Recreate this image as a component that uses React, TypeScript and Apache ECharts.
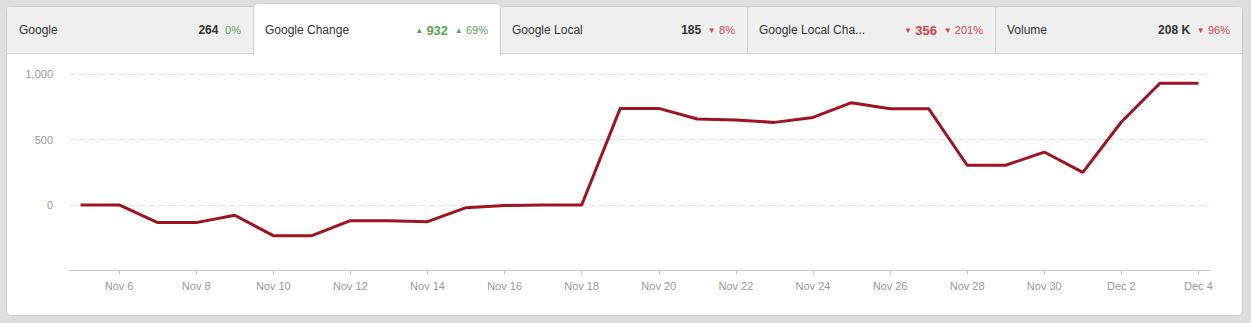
import React, { useEffect, useRef } from "react";
import * as echarts from "echarts";

const dates = [
  "Nov 5", "Nov 6", "Nov 7", "Nov 8", "Nov 9", "Nov 10", "Nov 11", "Nov 12", "Nov 13", "Nov 14",
  "Nov 15", "Nov 16", "Nov 17", "Nov 18", "Nov 19", "Nov 20", "Nov 21", "Nov 22", "Nov 23", "Nov 24",
  "Nov 25", "Nov 26", "Nov 27", "Nov 28", "Nov 29", "Nov 30", "Dec 1", "Dec 2", "Dec 3", "Dec 4",
];
const googleChange = [
  0, 0, -135, -135, -79, -235, -235, -120, -120, -128,
  -21, -5, 0, 0, 739, 739, 658, 650, 632, 670,
  783, 737, 737, 304, 304, 405, 250, 635, 932, 932,
];
const tickLabels = ["Nov 6", "Nov 8", "Nov 10", "Nov 12", "Nov 14", "Nov 16", "Nov 18", "Nov 20",
  "Nov 22", "Nov 24", "Nov 26", "Nov 28", "Nov 30", "Dec 2", "Dec 4"];
const yTicks = [-500, 0, 500, 1000];

const tabNames = ["Google", "Google Change", "Google Local", "Google Local Cha...", "Volume"];
const tabValues = ["264", "932", "185", "356", "208 K"];
const tabPercents = ["0%", "69%", "8%", "201%", "96%"];
const tabValueTrend = ["none", "up", "none", "down", "none"];
const tabPercentTrend = ["flat", "up", "down", "down", "down"];
const activeTab = 1;

const FONT = "'Liberation Sans', Arial, sans-serif";
const GREEN = "#5aa556";
const RED = "#d6404a";
const LINE = "#9e1420";

export default function App() {
  const ref = useRef<HTMLDivElement>(null);
  useEffect(() => {
    if (!ref.current) return;
    const chart = echarts.init(ref.current, null, { renderer: "svg" });
    const tabEdges = [7, 253, 500, 747, 995, 1242];
    const graphics: any[] = [];
    graphics.push({ type: "rect", z: -10, silent: true, shape: { x: 0, y: 0, width: 1251, height: 323 }, style: { fill: "#dedede" } });
    graphics.push({ type: "rect", z: -9, silent: true, shape: { x: 6.5, y: 6.5, width: 1236, height: 309, r: 4 }, style: { fill: "#ffffff", stroke: "#cccccc", lineWidth: 1 } });
    graphics.push({ type: "rect", z: -8, silent: true, shape: { x: 7, y: 7, width: 1235, height: 46, r: [4, 4, 0, 0] }, style: { fill: "#efefef" } });
    graphics.push({ type: "line", z: -7, silent: true, shape: { x1: 7, y1: 53.5, x2: 1242, y2: 53.5 }, style: { stroke: "#cfcfcf", lineWidth: 1 } });
    [747, 995].forEach((x) => {
      graphics.push({ type: "line", z: -7, silent: true, shape: { x1: x + 0.5, y1: 7, x2: x + 0.5, y2: 53 }, style: { stroke: "#cfcfcf", lineWidth: 1 } });
    });
    const a0 = tabEdges[activeTab], a1 = tabEdges[activeTab + 1];
    graphics.push({ type: "rect", z: -6, silent: true, shape: { x: a0 + 0.5, y: 3.5, width: a1 - a0, height: 52, r: [4, 4, 0, 0] }, style: { fill: "#ffffff", stroke: "#cfcfcf", lineWidth: 1 } });
    graphics.push({ type: "rect", z: -5, silent: true, shape: { x: a0 + 1, y: 50, width: a1 - a0 - 1, height: 8 }, style: { fill: "#ffffff" } });

    tabNames.forEach((name, i) => {
      const left = tabEdges[i];
      const right = tabEdges[i + 1];
      graphics.push({
        type: "text", z: 10, silent: true, x: left + 12, y: 30,
        style: { text: name, fill: "#333333", font: `12px ${FONT}`, verticalAlign: "middle", align: "left" },
      });
      const vt = tabValueTrend[i];
      const pt = tabPercentTrend[i];
      const vStyle = vt === "up" ? "vu" : vt === "down" ? "vd" : "vn";
      const vArrow = vt === "up" ? "{au|▲} " : vt === "down" ? "{ad|▼} " : "";
      const pArrow = pt === "up" ? "{au|▲} " : pt === "down" ? "{ad|▼} " : "";
      const pStyle = pt === "up" || pt === "flat" ? "pu" : "pd";
      graphics.push({
        type: "text", z: 10, silent: true, x: right - 12, y: 30,
        style: {
          text: `${vArrow}{${vStyle}|${tabValues[i]}}  ${pArrow}{${pStyle}|${tabPercents[i]}}`,
          align: "right", verticalAlign: "middle", font: `12px ${FONT}`,
          rich: {
            vn: { fontFamily: FONT, fontSize: 12, fontWeight: "bold", fill: "#333333" },
            vu: { fontFamily: FONT, fontSize: 13, fontWeight: "bold", fill: GREEN },
            vd: { fontFamily: FONT, fontSize: 13, fontWeight: "bold", fill: RED },
            pu: { fontFamily: FONT, fontSize: 11, fill: GREEN },
            pd: { fontFamily: FONT, fontSize: 11, fill: RED },
            au: { fontFamily: FONT, fontSize: 8, fill: GREEN },
            ad: { fontFamily: FONT, fontSize: 8, fill: RED },
          },
        },
      });
    });

    const tickIdx = tickLabels.map((l) => dates.indexOf(l));

    chart.setOption({
      animation: false,
      textStyle: { fontFamily: FONT },
      graphic: graphics,
      grid: { left: 69, right: 41, top: 74.3, bottom: 52.7, containLabel: false },
      xAxis: {
        type: "value",
        min: -0.3,
        max: dates.length - 1 + 0.3,
        axisLine: { show: true, onZero: false, lineStyle: { color: "#c8c8c8" } },
        axisTick: { show: true, length: 4, customValues: tickIdx, lineStyle: { color: "#c8c8c8" } },
        axisLabel: {
          customValues: tickIdx,
          formatter: (v: number) => dates[Math.round(v)] ?? "",
          color: "#999999", fontSize: 11, margin: 10, fontFamily: FONT,
        },
        splitLine: { show: false },
      },
      yAxis: {
        type: "value",
        min: yTicks[0],
        max: yTicks[yTicks.length - 1],
        interval: yTicks[1] - yTicks[0],
        axisLine: { show: false },
        axisTick: { show: false },
        axisLabel: {
          formatter: (v: number) => (v < 0 ? "" : v.toLocaleString("en-US")),
          color: "#999999", fontSize: 11, margin: 16, fontFamily: FONT,
        },
        splitLine: { show: true, lineStyle: { color: "#e4e4e4", type: [6, 4] } },
      },
      series: [
        {
          type: "line",
          data: googleChange.map((v, i) => [i, v]),
          showSymbol: false,
          symbol: "none",
          lineStyle: { color: LINE, width: 3 },
          itemStyle: { color: LINE },
        },
      ],
    });
    return () => chart.dispose();
  }, []);
  return <div ref={ref} style={{ position: "absolute", left: 0, top: 0, width: 1251, height: 323 }} />;
}
